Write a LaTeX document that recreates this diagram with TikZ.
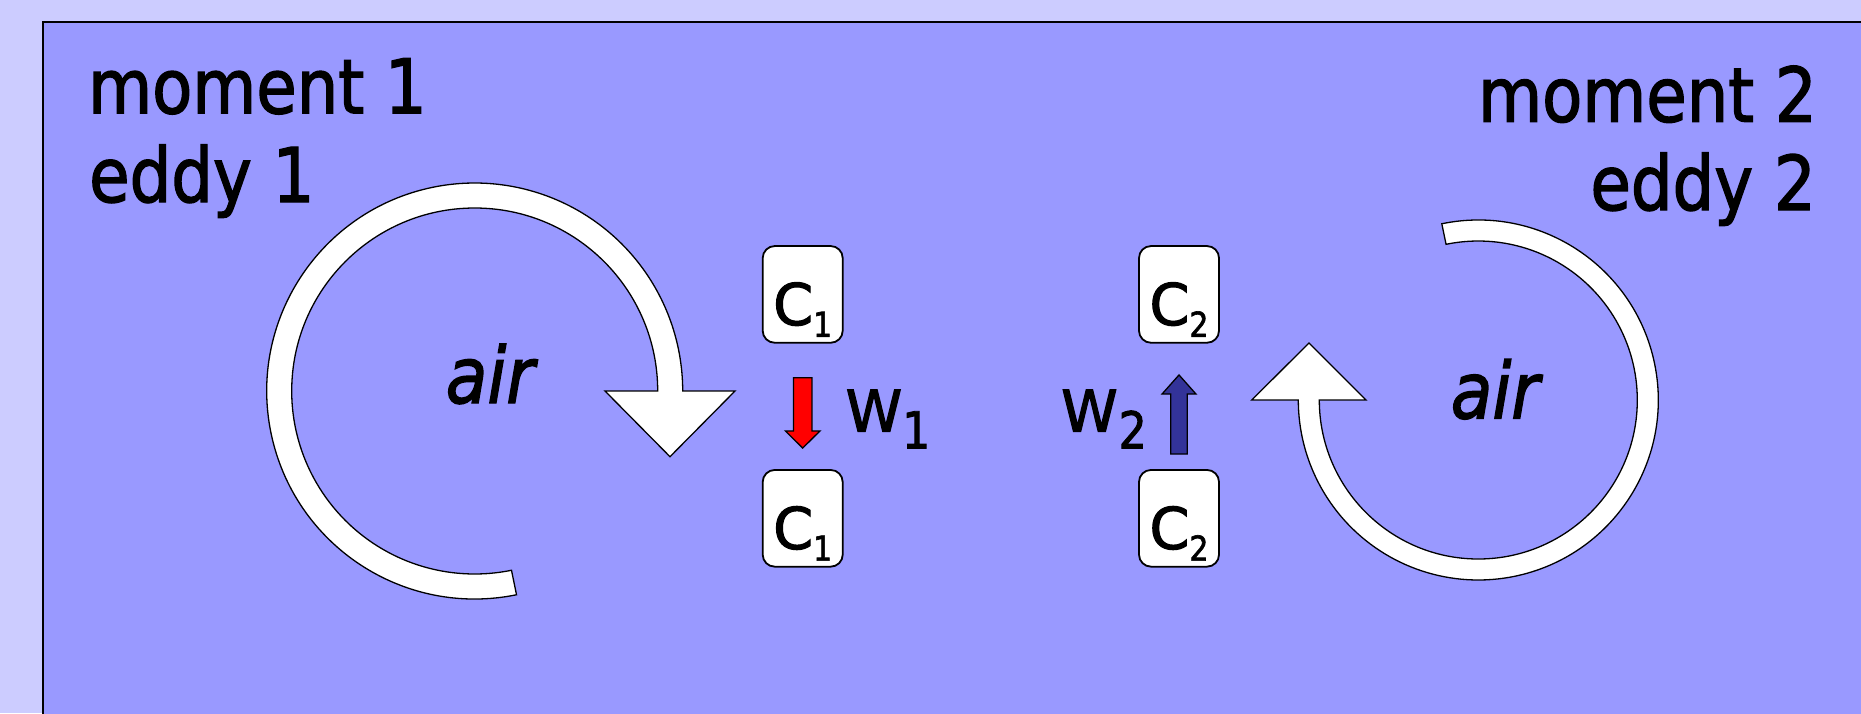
\documentclass[tikz,border=0pt]{standalone}
\usepackage{fontspec}
\usepackage{graphicx}
\setmainfont{DejaVu Sans}[FakeStretch=0.87, FakeBold=1.8]
\setsansfont{DejaVu Sans}[FakeStretch=0.87, FakeBold=1.8]
\usetikzlibrary{calc}
\definecolor{pagebg}{HTML}{CCCCFF}
\definecolor{panelbg}{HTML}{9999FF}
\definecolor{upblue}{HTML}{333399}
\newcommand\wideletter[1]{\scalebox{1.14}[1]{#1}}
\newcommand\boxsub[1]{\raisebox{-11.7pt}{\fontsize{34.3}{36}\selectfont #1}}
\newcommand\wsub[1]{\raisebox{-16.6pt}{\fontsize{50.8}{52}\selectfont #1}}
\tikzset{
  title/.style={inner sep=0pt, font=\fontsize{75.5}{89}\selectfont},
  airlab/.style={inner sep=0pt, font=\fontsize{78}{89}\selectfont\itshape},
  eddy/.style={draw=black, fill=white, line width=1.3pt, line join=miter},
  cbox/.style={draw=black, fill=white, rounded corners=12pt, line width=1.8pt,
    minimum width=80pt, inner sep=0pt, text height=79pt, text depth=17.7pt,
    font=\fontsize{57.6}{60}\selectfont},
  wlab/.style={inner sep=0pt, font=\fontsize{57.6}{60}\selectfont},
  blockarrow/.style={draw=black, line width=1.3pt, line join=miter}
}
\begin{document}
\begin{tikzpicture}[x=1pt,y=-1pt]
\useasboundingbox (0,0) rectangle (1861,713);
% slide background and content panel
\fill[pagebg] (0,0) rectangle (1861,713);
\draw[line width=1.6pt, fill=panelbg] (43,22) rectangle (1880,730);

% headings
\node[title, anchor=base west] (m1) at (88,113.3) {moment 1};
\node[title, anchor=base west] (e1) at (89,202) {eddy 1};
\node[title, anchor=base east] (m2) at (1817,121.7) {moment 2};
\node[title, anchor=base east] (e2) at (1816,210) {eddy 2};

% eddy 1: clockwise ring ending in a downward head
\coordinate (L) at (474.7,391);
\filldraw[eddy] ($(L)+(78.4:208)$) arc[start angle=78.4, end angle=360, radius=208]
  -- (735,391) -- (670,456.7) -- (605,391)
  -- ($(L)+(0:183)$) arc[start angle=360, end angle=78.4, radius=183] -- cycle;
\node[airlab, anchor=base] (air1) at (490,403) {air};

% eddy 2: clockwise ring ending in an upward head
\coordinate (R) at (1478.3,400);
\filldraw[eddy] ($(R)+(258.3:180)$) arc[start angle=258.3, end angle=540, radius=180]
  -- (1251.7,400) -- (1309,343) -- (1366,400)
  -- ($(R)+(540:159)$) arc[start angle=540, end angle=258.3, radius=159] -- cycle;
\node[airlab, anchor=base] (air2) at (1495,418.3) {air};

% concentration boxes
\node[cbox] (c1a) at (802.7,294.4) {\wideletter{C}\boxsub{1}};
\node[cbox] (c1b) at (802.7,518.3) {\wideletter{C}\boxsub{1}};
\node[cbox] (c2a) at (1179,294.4) {\wideletter{C}\boxsub{2}};
\node[cbox] (c2b) at (1179,518.3) {\wideletter{C}\boxsub{2}};

% vertical velocities
\filldraw[blockarrow, fill=red]
  ($(c1a.south)+(-9.2,34)$) -- ($(c1a.south)+(9.2,34)$) -- ($(c1a.south)+(9.2,87.3)$)
  -- ($(c1a.south)+(17.3,87.3)$) -- ($(c1b.north)+(0,-21)$)
  -- ($(c1a.south)+(-17.3,87.3)$) -- ($(c1a.south)+(-9.2,87.3)$) -- cycle;
\filldraw[blockarrow, fill=upblue]
  ($(c2b.north)+(-8.3,-15)$) -- ($(c2b.north)+(8.3,-15)$) -- ($(c2b.north)+(8.3,-75)$)
  -- ($(c2b.north)+(17,-75)$) -- ($(c2a.south)+(0,31.3)$)
  -- ($(c2b.north)+(-17,-75)$) -- ($(c2b.north)+(-8.3,-75)$) -- cycle;
\node[wlab, anchor=base west] (w1) at (845.5,431.7) {\wideletter{W}\wsub{1}};
\node[wlab, anchor=base west] (w2) at (1061,431.7) {\wideletter{W}\hspace{1pt}\wsub{2}};
\end{tikzpicture}
\end{document}
